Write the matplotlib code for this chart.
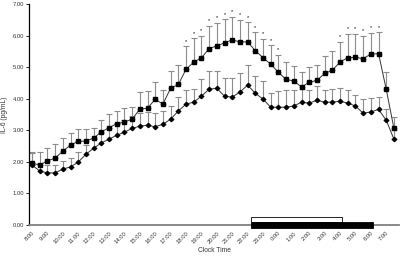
import numpy as np
import matplotlib.pyplot as plt
import matplotlib.transforms as mtransforms

plt.rcParams['font.family'] = ['Liberation Sans', 'DejaVu Sans']

# clock labels (every hour; points every half hour)
hours = ['8:00', '9:00', '10:00', '11:00', '12:00', '13:00', '14:00', '15:00',
         '16:00', '17:00', '18:00', '19:00', '20:00', '21:00', '22:00', '23:00',
         '0:00', '1:00', '2:00', '3:00', '4:00', '5:00', '6:00', '7:00']

# square series (upper)
sq = [1.96, 1.90, 2.03, 2.12, 2.34, 2.53, 2.65, 2.66, 2.75, 2.95, 3.08, 3.21,
      3.26, 3.35, 3.67, 3.70, 3.98, 3.83, 4.33, 4.45, 4.93, 5.16,
      5.29, 5.59, 5.67, 5.77, 5.86, 5.80, 5.80, 5.52, 5.30, 5.09, 4.84, 4.61, 4.56,
      4.37, 4.52, 4.58, 4.80, 4.90, 5.16, 5.30, 5.31, 5.27, 5.41, 5.43, 4.30, 3.06]
sq_err = [0.35, 0.40, 0.42, 0.43, 0.43, 0.38, 0.38, 0.37, 0.32, 0.39, 0.42, 0.40,
          0.44, 0.39, 0.53, 0.54, 0.54, 0.44, 0.54, 0.61, 0.73, 0.76,
          0.71, 0.72, 0.73, 0.75, 0.74, 0.70, 0.62, 0.59, 0.59, 0.60, 0.55, 0.55, 0.47,
          0.47, 0.48, 0.48, 0.55, 0.60, 0.64, 0.76, 0.74, 0.73, 0.67, 0.67, 0.55, 0.36]

# diamond series (lower)
dm = [1.90, 1.71, 1.65, 1.65, 1.77, 1.84, 1.99, 2.24, 2.43, 2.60, 2.72, 2.84,
      2.94, 3.06, 3.13, 3.16, 3.11, 3.19, 3.35, 3.61, 3.83, 3.89,
      4.08, 4.30, 4.33, 4.08, 4.05, 4.21, 4.43, 4.17, 3.99, 3.73, 3.73, 3.73, 3.77,
      3.89, 3.86, 3.95, 3.89, 3.89, 3.92, 3.86, 3.77, 3.54, 3.58, 3.66, 3.32, 2.72]
dm_err = [0.38, 0.25, 0.25, 0.25, 0.26, 0.27, 0.31, 0.30, 0.30, 0.32, 0.35, 0.40,
          0.40, 0.40, 0.42, 0.42, 0.43, 0.41, 0.42, 0.44, 0.44, 0.42,
          0.53, 0.57, 0.54, 0.56, 0.62, 0.59, 0.65, 0.56, 0.57, 0.46, 0.52, 0.54, 0.50,
          0.41, 0.41, 0.45, 0.38, 0.41, 0.41, 0.41, 0.34, 0.44, 0.44, 0.39, 0.35, 0.30]

# significant time points
stars = list(range(20, 33)) + list(range(40, 46))

# sleep bars (in half-hour index units)
wake_bar = (28.5, 40.2)
dark_bar = (28.5, 44.3)

x = np.arange(len(sq))
sq = np.array(sq); dm = np.array(dm)

fig = plt.figure(figsize=(4, 2.57), dpi=100)
ax = fig.add_axes([0.0725, 0.1245, 0.925, 0.86])

ax.errorbar(x, dm, yerr=[np.zeros(len(x)), dm_err], fmt='none', ecolor='#8c8c8c',
            elinewidth=0.8, capsize=2, capthick=0.8, zorder=2)
ax.errorbar(x, sq, yerr=[np.zeros(len(x)), sq_err], fmt='none', ecolor='#8c8c8c',
            elinewidth=0.8, capsize=2, capthick=0.8, zorder=2)
ax.plot(x, dm, color='#333333', lw=0.7, marker='D', ms=2.2, mfc='black', mec='black', zorder=3)
ax.plot(x, sq, color='#333333', lw=0.7, marker='s', ms=3, mfc='black', mec='black', zorder=3)

for i in stars:
    ax.text(i, sq[i] + sq_err[i] + 0.08, '*', fontsize=4, ha='center', va='bottom')

ax.add_patch(plt.Rectangle((wake_bar[0], 0.10), wake_bar[1] - wake_bar[0], 0.16,
                           fc='white', ec='black', lw=0.6, zorder=4))
ax.add_patch(plt.Rectangle((dark_bar[0], -0.10), dark_bar[1] - dark_bar[0], 0.20,
                           fc='black', ec='black', lw=0.6, zorder=4, clip_on=False))

ax.set_xlim(-0.39, 47.66)
ax.set_ylim(0, 7)
ax.set_yticks(np.arange(0, 8))
ax.set_yticklabels(['%.2f' % v for v in range(8)], fontsize=4.2, color='#333333')
ax.set_xticks(np.arange(0, 48, 2))
ax.set_xticklabels(hours, rotation=45, ha='right', rotation_mode='anchor',
                   fontsize=4.2, color='#333333')
shift = mtransforms.ScaledTranslation(-3 / 100, 0, fig.dpi_scale_trans)
for lab in ax.get_xticklabels():
    lab.set_transform(lab.get_transform() + shift)
ax.tick_params(axis='y', length=2, width=0.6, pad=1.5)
ax.tick_params(axis='x', length=0, pad=4)

for s in ['top', 'right']:
    ax.spines[s].set_visible(False)
ax.spines['left'].set_linewidth(0.9)
ax.spines['bottom'].set_color('#808080')
ax.spines['bottom'].set_linewidth(1.3)

ax.set_ylabel('IL-6 (pg/mL)', fontsize=4.8, labelpad=3, color='#333333')
ax.set_xlabel('Clock Time', fontsize=4.8, labelpad=2, color='#333333')

fig.savefig('out.png', dpi=100)
